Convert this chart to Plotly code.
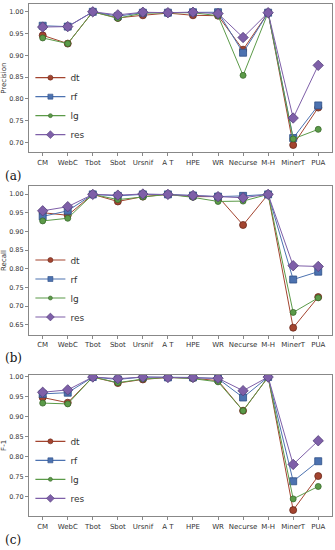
import plotly.graph_objects as go

categories = ["CM", "WebC", "Tbot", "Sbot", "Ursnif", "A T", "HPE", "WR", "Necurse", "M-H", "MinerT", "PUA"]
series_names = ["dt", "rf", "lg", "res"]

precision_dt = [0.946, 0.927, 1.000, 0.986, 0.992, 0.997, 0.992, 0.991, 0.913, 0.998, 0.694, 0.780]
precision_rf = [0.968, 0.966, 1.000, 0.990, 0.998, 0.998, 0.999, 0.999, 0.906, 0.998, 0.710, 0.785]
precision_lg = [0.940, 0.927, 1.000, 0.985, 0.997, 0.998, 0.998, 0.991, 0.854, 0.998, 0.708, 0.730]
precision_res = [0.965, 0.966, 1.000, 0.993, 0.999, 0.998, 0.999, 0.996, 0.941, 0.998, 0.756, 0.877]

recall_dt = [0.950, 0.943, 0.999, 0.980, 0.993, 0.999, 0.993, 0.993, 0.917, 0.999, 0.642, 0.724]
recall_rf = [0.940, 0.955, 0.999, 0.995, 0.999, 0.999, 0.996, 0.993, 0.995, 0.999, 0.771, 0.792]
recall_lg = [0.928, 0.935, 0.999, 0.985, 0.992, 0.999, 0.991, 0.980, 0.981, 0.999, 0.683, 0.722]
recall_res = [0.955, 0.966, 0.999, 0.997, 1.000, 0.999, 0.996, 0.993, 0.990, 0.999, 0.808, 0.806]

f1_dt = [0.948, 0.935, 0.999, 0.984, 0.993, 0.998, 0.996, 0.990, 0.915, 0.999, 0.667, 0.752]
f1_rf = [0.957, 0.960, 0.999, 0.993, 0.999, 0.998, 0.998, 0.995, 0.948, 0.999, 0.739, 0.789]
f1_lg = [0.934, 0.932, 0.999, 0.985, 0.994, 0.998, 0.995, 0.987, 0.915, 0.999, 0.695, 0.726]
f1_res = [0.961, 0.967, 0.999, 0.995, 0.999, 0.998, 0.998, 0.996, 0.965, 0.999, 0.781, 0.840]

y_ticks_a = [0.70, 0.75, 0.80, 0.85, 0.90, 0.95, 1.00]
y_ticks_b = [0.65, 0.70, 0.75, 0.80, 0.85, 0.90, 0.95, 1.00]
y_ticks_c = [0.70, 0.75, 0.80, 0.85, 0.90, 0.95, 1.00]

colors = {"dt": "#a3442f", "rf": "#4c72b0", "lg": "#5b9a48", "res": "#7e5fa8"}
edges = {"dt": "#6b2a1c", "rf": "#2f4f86", "lg": "#3a6a2c", "res": "#54407a"}
symbols = {"dt": "circle", "rf": "square", "lg": "circle", "res": "diamond"}
sizes = {"dt": 7, "rf": 7, "lg": 6, "res": 8}
legend_sizes = {"dt": 5, "rf": 5, "lg": 4, "res": 6}

panels = [
    ("Precision", [precision_dt, precision_rf, precision_lg, precision_res], y_ticks_a, [0.677, 1.018], [0.7255, 0.9964], "(a)"),
    ("Recall", [recall_dt, recall_rf, recall_lg, recall_res], y_ticks_b, [0.623, 1.0205], [0.3927, 0.6636], "(b)"),
    ("F-1", [f1_dt, f1_rf, f1_lg, f1_res], y_ticks_c, [0.652, 1.005], [0.0618, 0.32], "(c)"),
]

fig = go.Figure()
layout = {}
annotations = []
for i, (ylabel, data, yt, yr, dom, lab) in enumerate(panels):
    n = "" if i == 0 else str(i + 1)
    leg = "legend" + n
    for name, vals in zip(series_names, data):
        fig.add_trace(go.Scatter(
            x=list(range(len(categories))), y=vals, name=name, mode="lines+markers",
            xaxis="x" + n, yaxis="y" + n, showlegend=False,
            line=dict(color=colors[name], width=1),
            marker=dict(symbol=symbols[name], size=sizes[name], color=colors[name],
                        line=dict(color=edges[name], width=0.8)),
        ))
    for name in series_names:
        # legend-only entries with smaller markers, like the reference legend
        fig.add_trace(go.Scatter(
            x=[None], y=[None], name=name, mode="lines+markers",
            xaxis="x" + n, yaxis="y" + n, legend=leg, showlegend=True,
            line=dict(color=colors[name], width=1.2),
            marker=dict(symbol=symbols[name], size=legend_sizes[name], color=colors[name],
                        line=dict(color=edges[name], width=0.6)),
        ))
    layout["xaxis" + n] = dict(
        domain=[0.0836, 0.991], anchor="y" + n, range=[-0.55, 11.55],
        tickmode="array", tickvals=list(range(len(categories))), ticktext=categories,
        showline=True, mirror=True, linecolor="#888888", linewidth=1,
        ticks="outside", ticklen=3, tickcolor="#888888", showgrid=False, zeroline=False,
        tickfont=dict(size=7, color="#333333", family="DejaVu Sans"),
    )
    layout["yaxis" + n] = dict(
        domain=dom, anchor="x" + n, range=yr,
        tickmode="array", tickvals=yt, ticktext=["%.2f" % v for v in yt],
        showline=True, mirror=True, linecolor="#888888", linewidth=1,
        ticks="outside", ticklen=3, tickcolor="#888888", showgrid=False, zeroline=False,
        tickfont=dict(size=6.5, color="#333333", family="DejaVu Sans"),
        title=dict(text=ylabel, font=dict(size=7, color="#333333", family="DejaVu Sans"), standoff=4),
    )
    layout[leg] = dict(
        x=0.088, y=dom[0] + 0.006, xanchor="left", yanchor="bottom",
        bgcolor="rgba(255,255,255,0)", font=dict(size=9, color="#333333", family="DejaVu Sans"),
        tracegroupgap=0, itemwidth=30,
    )
    annotations.append(dict(
        text=lab, xref="paper", yref="paper", x=0.005, y=dom[0] - 0.043,
        xanchor="left", yanchor="middle", showarrow=False,
        font=dict(size=12, color="#111111", family="DejaVu Serif"),
    ))

fig.update_layout(
    width=335, height=550, margin=dict(l=0, r=0, t=0, b=0),
    paper_bgcolor="white", plot_bgcolor="white", showlegend=True,
    annotations=annotations, **layout,
)
fig.write_html(
    "out.html",
    config={"displayModeBar": False},
    post_script="document.body.style.margin='0px';document.body.style.overflow='hidden';",
)
